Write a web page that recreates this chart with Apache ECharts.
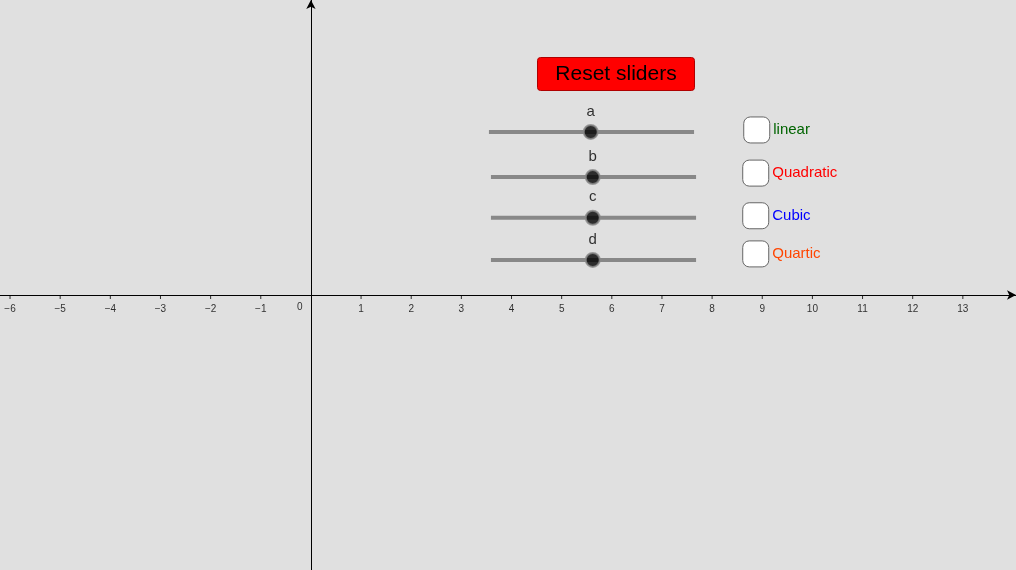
<!DOCTYPE html>
<html><head><meta charset="utf-8">
<script src="https://cdn.jsdelivr.net/npm/echarts@6/dist/echarts.min.js"></script>
<style>html,body{margin:0;padding:0;background:#e0e0e0}#c{width:1016px;height:570px}</style>
</head><body><div id="c"></div>
<script>
var tickValues = [-6,-5,-4,-3,-2,-1,1,2,3,4,5,6,7,8,9,10,11,12,13];
var sliderNames = ['a','b','c','d'];
var sliderY = [3.25, 2.35, 1.54, 0.70];
var sliderStart = [3.55, 3.59, 3.59, 3.59];
var sliderEnd = [7.64, 7.68, 7.68, 7.68];
var sliderValue = [5.58, 5.62, 5.62, 5.62];
var boxNames = ['linear','Quadratic','Cubic','Quartic'];
var boxColors = ['#006400','#ff0000','#0000ff','#ff4500'];
var boxX = [8.89, 8.87, 8.87, 8.87];
var boxY = [3.29, 2.43, 1.58, 0.82];

var series = [];
series.push({type:'scatter', data:tickValues.map(function(v){return [v,0];}), symbol:'rect', symbolSize:[1,4],
  symbolOffset:[0,2], itemStyle:{color:'#000'}, animation:false, silent:true,
  label:{show:true, position:'bottom', distance:5, color:'#000', fontSize:10, fontFamily:'Liberation Sans',
    formatter:function(p){return String(p.value[0]).replace('-','\u2212');}}});
series.push({type:'scatter', data:[[-0.22,0]], symbolSize:0, animation:false, silent:true,
  label:{show:true, position:'bottom', distance:7, formatter:'0', color:'#000', fontSize:10, fontFamily:'Liberation Sans'}});
sliderNames.forEach(function(n,i){
  series.push({type:'line', data:[[sliderStart[i],sliderY[i]],[sliderEnd[i],sliderY[i]]],
    symbol:'none', silent:true, lineStyle:{color:'#888',width:4}, animation:false, z:3});
  series.push({type:'scatter', data:[[sliderValue[i],sliderY[i]]], symbolSize:14, silent:true,
    itemStyle:{color:'#000',borderColor:'#888',borderWidth:2}, z:4, animation:false,
    label:{show:true, position:'top', distance:5, formatter:n, color:'#000', fontSize:15, fontFamily:'Liberation Sans'}});
});
boxNames.forEach(function(n,i){
  series.push({type:'scatter', data:[[boxX[i],boxY[i]]], symbol:'roundRect', symbolSize:26, silent:true,
    itemStyle:{color:'#fff',borderColor:'#666',borderWidth:1,opacity:1}, animation:false, z:4,
    label:{show:true, position:'right', distance:3, formatter:n, color:boxColors[i], fontSize:15, fontFamily:'Liberation Sans'}});
});

var chart = echarts.init(document.getElementById('c'));
chart.setOption({
  backgroundColor:'#e0e0e0',
  animation:false,
  grid:{left:0, right:0, top:0, bottom:0},
  xAxis:{type:'value', min:-6.2, max:14.06, splitLine:{show:false},
    axisLine:{onZero:true, lineStyle:{color:'#000',width:1}, symbol:['none','arrow'], symbolSize:[7,9]},
    axisTick:{show:false}, axisLabel:{show:false}},
  yAxis:{type:'value', min:-5.48, max:5.88, splitLine:{show:false},
    axisLine:{onZero:true, lineStyle:{color:'#000',width:1}, symbol:['none','arrow'], symbolSize:[7,9]},
    axisTick:{show:false}, axisLabel:{show:false}},
  graphic:[{type:'group', left:537, top:57, children:[
    {type:'rect', shape:{x:0,y:0,width:157,height:33,r:3}, style:{fill:'#ff0000',stroke:'#b00000',lineWidth:1}},
    {type:'text', style:{x:78.5,y:17,text:'Reset sliders',fill:'#000',font:'21px "Liberation Sans"',align:'center',verticalAlign:'middle'}}
  ]}],
  series:series
});
</script></body></html>
